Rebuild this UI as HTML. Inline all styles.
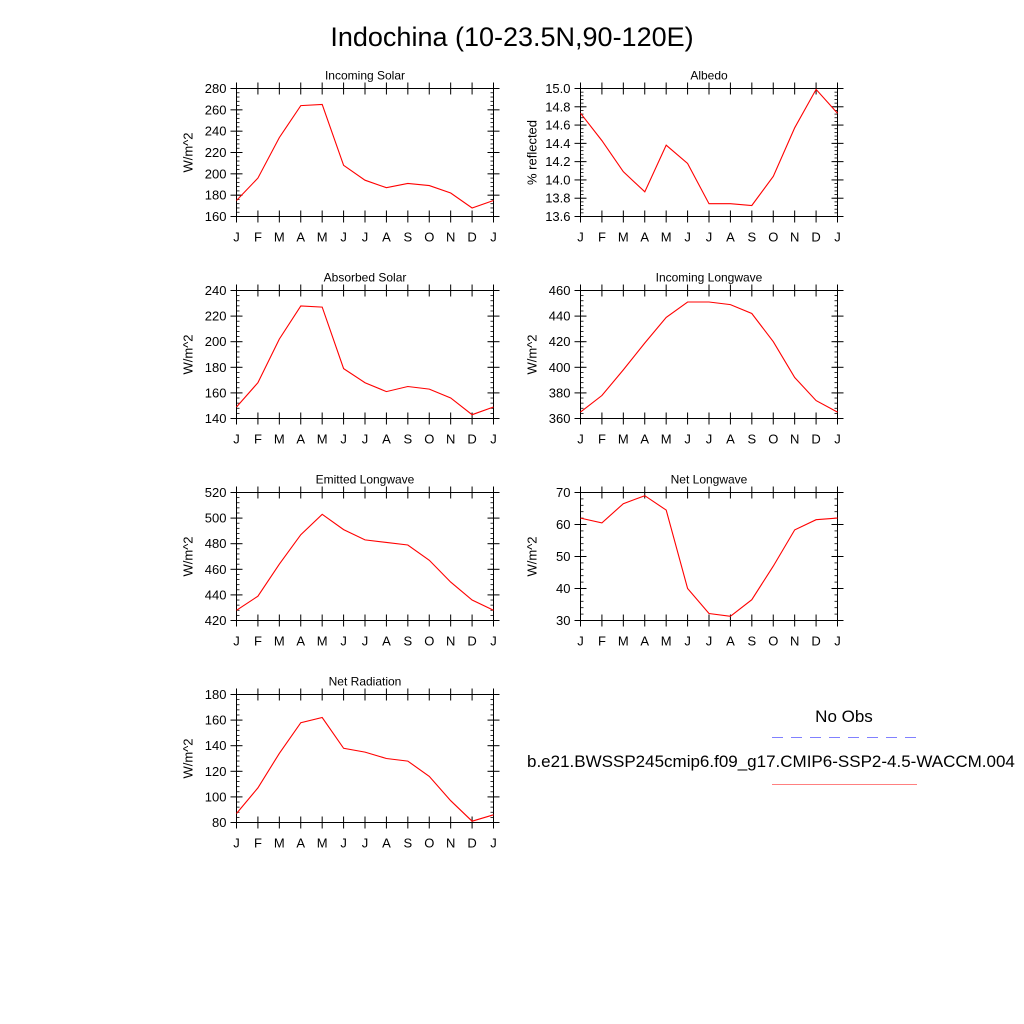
<!DOCTYPE html>
<html><head><meta charset="utf-8">
<style>
html,body{margin:0;padding:0;background:#fff;}
svg{display:block;font-family:"Liberation Sans",Arial,sans-serif;}
</style></head>
<body>
<svg id="fig" width="1024" height="1024" viewBox="0 0 1024 1024" xmlns="http://www.w3.org/2000/svg">
<rect width="1024" height="1024" fill="#fff"/>
<text x="512" y="46" font-size="27" text-anchor="middle">Indochina (10-23.5N,90-120E)</text>
<g>
<text x="844" y="722" font-size="17" text-anchor="middle">No Obs</text>
<line x1="772" y1="737.5" x2="917" y2="737.5" stroke="#8080ff" stroke-width="1" stroke-dasharray="11,8"/>
<text x="527" y="767" font-size="17">b.e21.BWSSP245cmip6.f09_g17.CMIP6-SSP2-4.5-WACCM.004</text>
<line x1="772" y1="784.5" x2="917" y2="784.5" stroke="#ff8080" stroke-width="1"/>
</g>
</svg>
<script>
const months = ["J","F","M","A","M","J","J","A","S","O","N","D","J"];
const incomingSolar = [175,196,234,264,265,208,194,187,191,189,182,168,175];
const albedo = [14.73,14.43,14.09,13.87,14.38,14.18,13.74,13.74,13.72,14.04,14.57,14.99,14.73];
const absorbedSolar = [149,168,202,228,227,179,168,161,165,163,156,143,149];
const incomingLW = [365,378,398,419,439,451,451,449,442,420,392,374,365];
const emittedLW = [428,439,464,487,503,491,483,481,479,467,450,436,428];
const netLW = [62,60.5,66.5,69,64.5,40,32.2,31.3,36.5,47,58.3,61.5,62];
const netRad = [87,107,134,158,162,138,135,130,128,116,97,81,86];
const yTicksIS = [160,180,200,220,240,260,280];
const yTicksAlb = [13.6,13.8,14.0,14.2,14.4,14.6,14.8,15.0];
const yTicksAS = [140,160,180,200,220,240];
const yTicksILW = [360,380,400,420,440,460];
const yTicksELW = [420,440,460,480,500,520];
const yTicksNLW = [30,40,50,60,70];
const yTicksNR = [80,100,120,140,160,180];

const NS="http://www.w3.org/2000/svg";
const svg=document.getElementById('fig');
function mk(tag,attrs,parent){const e=document.createElementNS(NS,tag);for(const k in attrs)e.setAttribute(k,attrs[k]);(parent||svg).appendChild(e);return e;}

const panels=[
 {id:"incoming-solar",title:"Incoming Solar",ylab:"W/m^2",data:incomingSolar,ticks:yTicksIS,dec:0,x:236.5,y:88.5},
 {id:"albedo",title:"Albedo",ylab:"% reflected",data:albedo,ticks:yTicksAlb,dec:1,x:580.5,y:88.5},
 {id:"absorbed-solar",title:"Absorbed Solar",ylab:"W/m^2",data:absorbedSolar,ticks:yTicksAS,dec:0,x:236.5,y:290.5},
 {id:"incoming-longwave",title:"Incoming Longwave",ylab:"W/m^2",data:incomingLW,ticks:yTicksILW,dec:0,x:580.5,y:290.5},
 {id:"emitted-longwave",title:"Emitted Longwave",ylab:"W/m^2",data:emittedLW,ticks:yTicksELW,dec:0,x:236.5,y:492.5},
 {id:"net-longwave",title:"Net Longwave",ylab:"W/m^2",data:netLW,ticks:yTicksNLW,dec:0,x:580.5,y:492.5},
 {id:"net-radiation",title:"Net Radiation",ylab:"W/m^2",data:netRad,ticks:yTicksNR,dec:0,x:236.5,y:694.5}
];
const W=257,H=128;
panels.forEach(p=>{
 const g=mk('g',{});
 
 
 const ymin=p.ticks[0],ymax=p.ticks[p.ticks.length-1];
 const xs=i=>p.x+i*W/(months.length-1);
 const ys=v=>p.y+H-(v-ymin)/(ymax-ymin)*H;
 const t=mk('text',{x:p.x+W/2,y:p.y-9,'font-size':12,'text-anchor':'middle'},g);
 t.textContent=p.title;
 
 
 // y minor ticks
 const nMinor=(p.ticks.length-1)*5;
 for(let k=0;k<=nMinor;k++){
  const yy=p.y+H-k*H/nMinor;
  mk('line',{x1:p.x,x2:p.x+3,y1:yy,y2:yy,stroke:'#000','stroke-width':0.8},g);
  mk('line',{x1:p.x+W,x2:p.x+W-3,y1:yy,y2:yy,stroke:'#000','stroke-width':0.8},g);
 }
 p.ticks.forEach(v=>{
  const yy=ys(v);
  mk('line',{x1:p.x-6,x2:p.x+6,y1:yy,y2:yy,stroke:'#000'},g);
  mk('line',{x1:p.x+W-6,x2:p.x+W+6,y1:yy,y2:yy,stroke:'#000'},g);
  const tl=mk('text',{x:p.x-10,y:yy+4.5,'font-size':13,'text-anchor':'end'},g);
  tl.textContent=v.toFixed(p.dec);
  
  
 });
 months.forEach((m,i)=>{
  const xx=xs(i);
  mk('line',{x1:xx,x2:xx,y1:p.y-6,y2:p.y+6,stroke:'#000'},g);
  mk('line',{x1:xx,x2:xx,y1:p.y+H-6,y2:p.y+H+6,stroke:'#000'},g);
  const tl=mk('text',{x:xx,y:p.y+H+25,'font-size':13,'text-anchor':'middle'},g);
  tl.textContent=m;
  
  
 });
 const fr=mk('rect',{x:p.x,y:p.y,width:W,height:H,fill:'none',stroke:'#000','stroke-width':1},g);
 
 
 const yl=mk('text',{x:0,y:0,'font-size':13,'text-anchor':'middle',transform:`translate(${p.x-44},${p.y+H/2}) rotate(-90)`},g);
 yl.textContent=p.ylab;
 
 
 const pts=p.data.map((v,i)=>xs(i).toFixed(1)+','+ys(v).toFixed(1)).join(' ');
 const ln=mk('polyline',{points:pts,fill:'none',stroke:'#ff0000','stroke-width':1.1},g);
 
 
});
</script>
</body></html>
